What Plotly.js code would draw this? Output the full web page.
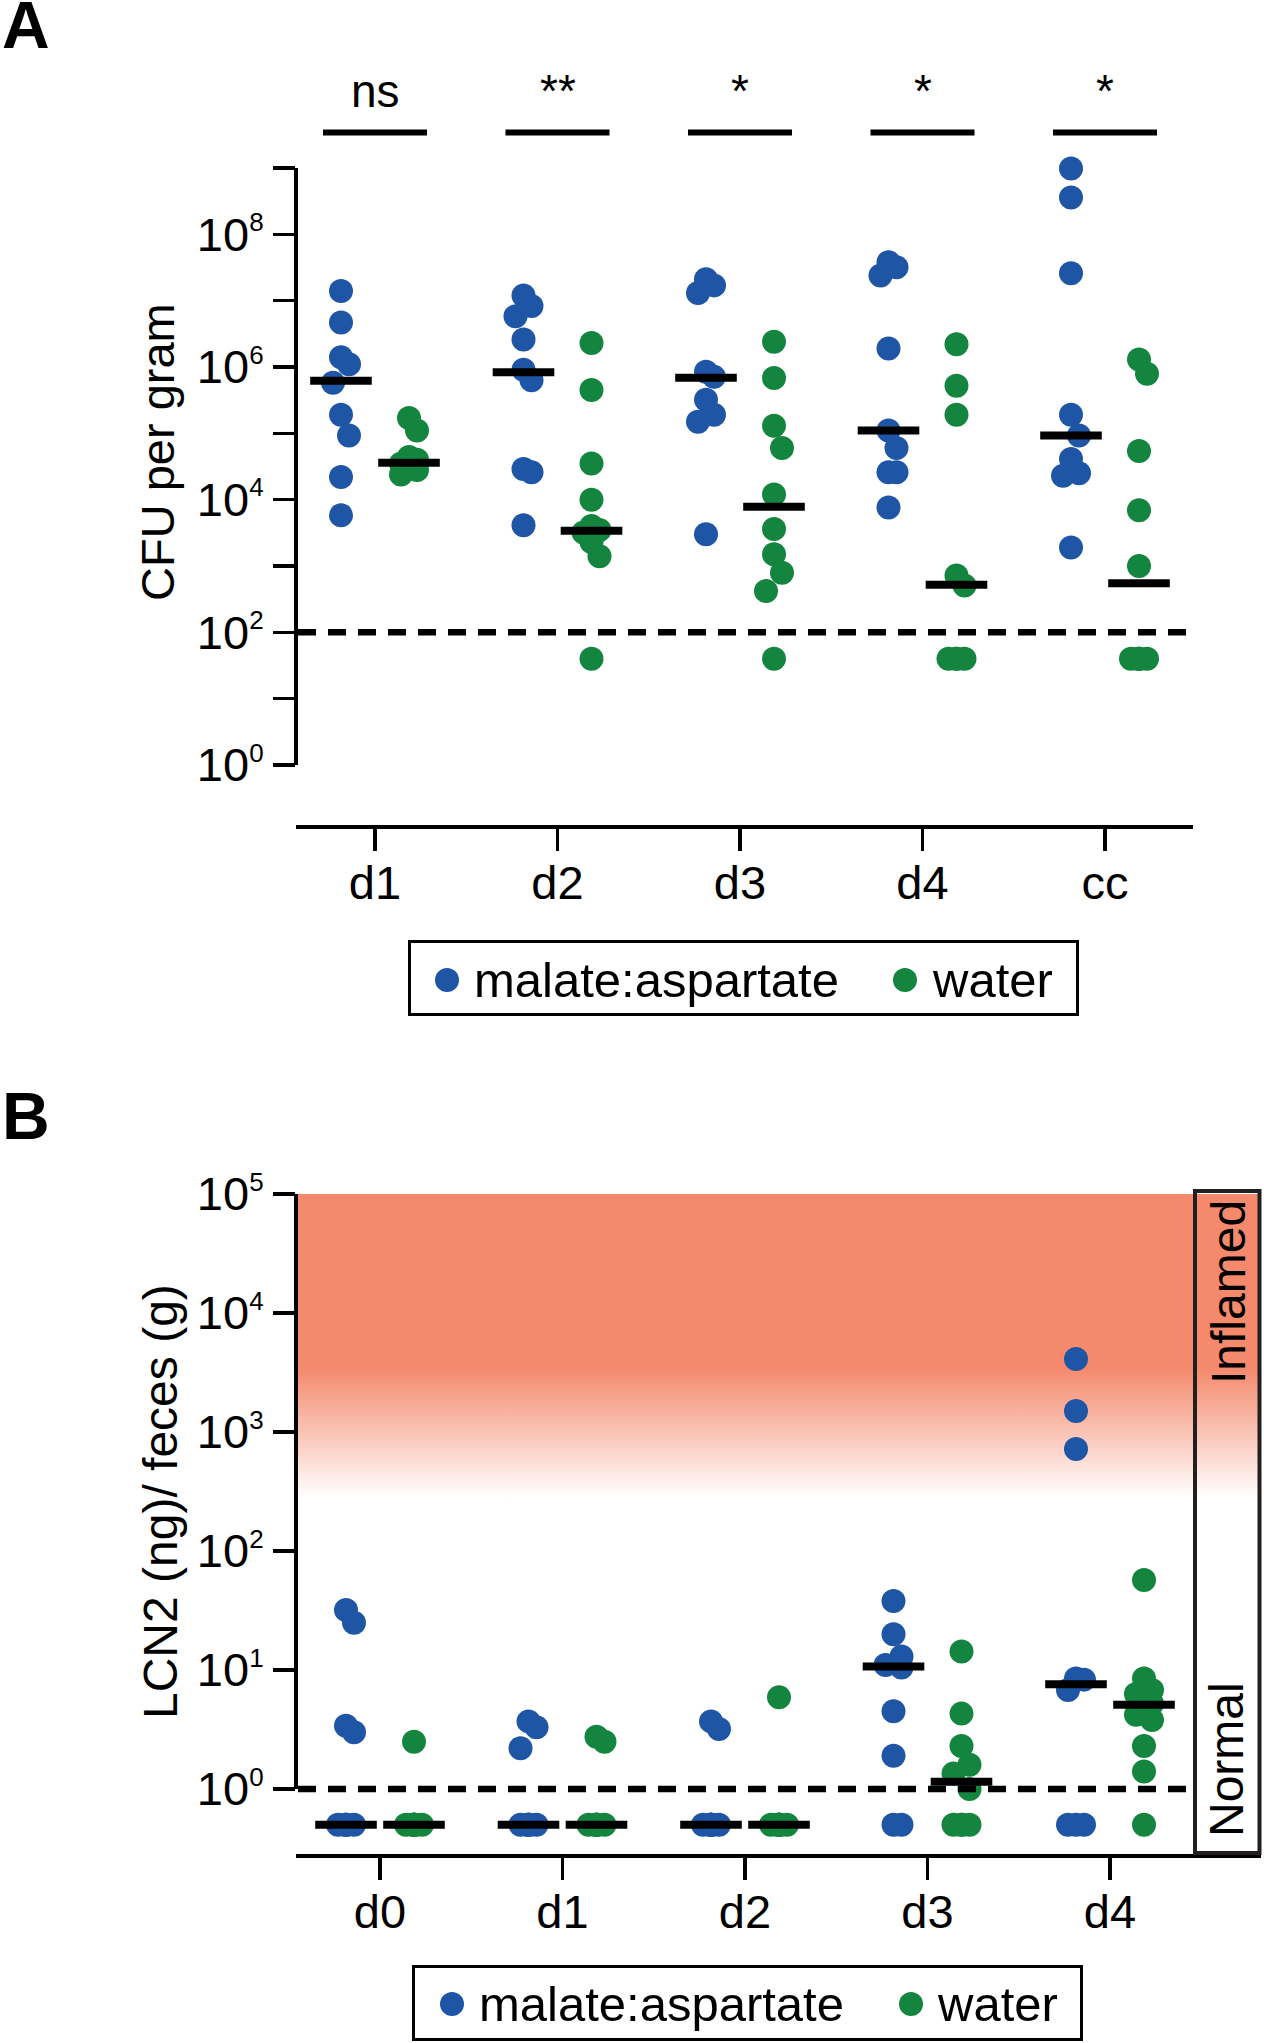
<!DOCTYPE html>
<html>
<head>
<meta charset="utf-8">
<script src="https://cdn.plot.ly/plotly-3.0.1.min.js"></script>
<style>
  html, body { margin: 0; padding: 0; background: #fff; }
  #chart { width: 1264px; height: 2043px; }
</style>
</head>
<body>
<div id="chart"></div>
<script>
// ---- panel A: CFU per gram ----
var daysA = ['d1', 'd2', 'd3', 'd4', 'cc'];
var sigLabels = ['ns', '**', '*', '*', '*'];
var lodA = 100;

var malateA = [
  [1.4e7, 4.7e6, 1.4e6, 1.1e6, 5.8e5, 1.9e5, 9.3e4, 2.2e4, 5.8e3],
  [1.2e7, 8.3e6, 5.8e6, 2.6e6, 9.1e5, 6.3e5, 2.9e4, 2.6e4, 4.1e3],
  [2.1e7, 1.7e7, 1.3e7, 8.5e5, 7.1e5, 3.2e5, 1.9e5, 1.5e5, 3.0e3],
  [3.8e7, 3.2e7, 2.4e7, 1.9e6, 1.1e5, 6.0e4, 2.6e4, 2.6e4, 7.6e3],
  [9.8e8, 3.6e8, 2.6e7, 1.9e5, 9.3e4, 4.1e4, 2.5e4, 2.3e4, 1.9e3]
];
var waterA = [
  [1.7e5, 1.1e5, 4.4e4, 4.0e4, 3.5e4, 3.2e4, 2.8e4, 2.4e4],
  [2.3e6, 4.5e5, 3.5e4, 1.0e4, 4.0e3, 3.5e3, 3.2e3, 2.3e3, 1.4e3, 40],
  [2.4e6, 6.8e5, 1.3e5, 6.0e4, 1.2e4, 3.6e3, 1.5e3, 7.9e2, 4.2e2, 40],
  [2.2e6, 5.2e5, 1.9e5, 7.2e2, 5.1e2, 40, 40, 40, 40],
  [1.3e6, 7.9e5, 5.4e4, 6.9e3, 1.0e3, 40, 40, 40, 40, 40]
];
var medianMalateA = [6.2e5, 8.3e5, 6.9e5, 1.1e5, 9.3e4];
var medianWaterA = [3.6e4, 3.4e3, 7.8e3, 5.2e2, 5.5e2];

// ---- panel B: LCN2 ----
var daysB = ['d0', 'd1', 'd2', 'd3', 'd4'];
var lodB = 1;
var inflamedTop = 1e5, inflamedSolid = 3500, inflamedFade = 280;

var malateB = [
  [32, 25, 3.4, 3.0, 0.5, 0.5, 0.5, 0.5, 0.5],
  [3.7, 3.3, 2.2, 0.5, 0.5, 0.5, 0.5, 0.5, 0.5],
  [3.7, 3.2, 0.5, 0.5, 0.5, 0.5, 0.5, 0.5, 0.5],
  [38, 20, 13, 11, 10.5, 4.5, 1.9, 0.5, 0.5],
  [4100, 1500, 720, 8.5, 8.3, 6.8, 0.5, 0.5, 0.5]
];
var waterB = [
  [2.5, 0.5, 0.5, 0.5, 0.5, 0.5, 0.5, 0.5, 0.5],
  [2.75, 2.5, 0.5, 0.5, 0.5, 0.5, 0.5, 0.5, 0.5],
  [5.9, 0.5, 0.5, 0.5, 0.5, 0.5, 0.5, 0.5, 0.5],
  [14.3, 4.3, 2.3, 1.6, 1.35, 1.0, 0.5, 0.5, 0.5, 0.5],
  [57, 8.5, 6.8, 6.3, 5.2, 4.2, 3.8, 2.3, 1.4, 0.5]
];
var medianMalateB = [0.5, 0.5, 0.5, 10.7, 7.6];
var medianWaterB = [0.5, 0.5, 0.5, 1.15, 5.1];

var seriesNames = ['malate:aspartate', 'water'];

// ---- geometry / style ----
var W = 1264, H = 2043;
function px(x) { return x / W; }
function py(y) { return 1 - y / H; }

var blue = '#1f55a5', green = '#13853f';
var FONT = 'Liberation Sans, Arial, sans-serif';
var slot = 182.5;              // px between day ticks
var shift = 34 / slot;         // group offset from the tick
var decA = 597 / 9, decB = 119; // px per decade

var rangeXA = [(296 - 375) / slot, (1193 - 375) / slot];
var rangeXB = [(296 - 380) / slot, (1261 - 380) / slot];

// small sideways dodge so overlapping dots stay visible
function dots(series, side, dec, color, xa, ya) {
  var xs = [], ys = [];
  series.forEach(function(vals, i) {
    var placed = [];
    vals.forEach(function(v) {
      var yp = Math.log10(v) * dec;
      var best = 0, bestScore = -1;
      [0, 8, -8].forEach(function(c) {
        var m = 24;
        placed.forEach(function(p) { m = Math.min(m, Math.hypot(p[0] - c, p[1] - yp)); });
        if (m > bestScore) { bestScore = m; best = c; }
      });
      placed.push([best, yp]);
      xs.push(i + side * shift + best / slot);
      ys.push(v);
    });
  });
  return {
    type: 'scatter', mode: 'markers', x: xs, y: ys, xaxis: xa, yaxis: ya,
    marker: {size: 24, color: color}, cliponaxis: false, showlegend: false,
    hoverinfo: 'y'
  };
}

function medians(meds, side, xa, ya) {
  return {
    type: 'scatter', mode: 'markers', xaxis: xa, yaxis: ya,
    x: meds.map(function(m, i) { return i + side * shift; }), y: meds,
    marker: {symbol: 'line-ew', size: 44, color: '#000', line: {width: 8, color: '#000'}},
    cliponaxis: false, showlegend: false, hoverinfo: 'y'
  };
}

var solidFrac = (Math.log10(inflamedSolid) - Math.log10(inflamedFade)) /
                (Math.log10(inflamedTop) - Math.log10(inflamedFade));
var band = {
  type: 'scatter', mode: 'lines', xaxis: 'x2', yaxis: 'y2',
  x: [rangeXB[0], rangeXB[1], rangeXB[1], rangeXB[0], rangeXB[0]],
  y: [inflamedFade, inflamedFade, inflamedTop, inflamedTop, inflamedFade],
  fill: 'toself', line: {width: 0},
  fillgradient: {type: 'vertical',
    colorscale: [[0, 'rgb(255,255,255)'], [solidFrac, 'rgb(244,137,108)'], [1, 'rgb(244,137,108)']]},
  hoverinfo: 'skip', showlegend: false
};

var data = [
  band,
  dots(malateA, -1, decA, blue, 'x', 'y'),
  dots(waterA, 1, decA, green, 'x', 'y'),
  medians(medianMalateA, -1, 'x', 'y'),
  medians(medianWaterA, 1, 'x', 'y'),
  dots(malateB, -1, decB, blue, 'x2', 'y2'),
  dots(waterB, 1, decB, green, 'x2', 'y2'),
  medians(medianMalateB, -1, 'x2', 'y2'),
  medians(medianWaterB, 1, 'x2', 'y2')
];

function sup(n) { return '10<sup><span style="font-size:26px">' + n + '</span></sup>'; }

var tickStyle = {ticks: 'outside', ticklen: 22, tickwidth: 3.5, tickcolor: '#000'};

function catAxis(domain, range, anchor, labels) {
  return Object.assign({
    domain: domain, range: range, anchor: anchor,
    tickmode: 'array', tickvals: labels.map(function(d, i) { return i; }), ticktext: labels,
    showline: true, linewidth: 4, linecolor: '#000',
    tickfont: {size: 47, family: FONT, color: '#000'}, ticklabelstandoff: -8,
    showgrid: false, zeroline: false, fixedrange: true
  }, tickStyle);
}
function logAxis(domain, range, anchor, maxPow, labelEvery) {
  var major = [], text = [], minor = [];
  for (var p = 0; p <= maxPow; p++) {
    if (p % labelEvery === 0) { major.push(Math.pow(10, p)); text.push(sup(p)); }
    else minor.push(Math.pow(10, p));
  }
  return Object.assign({
    type: 'log', domain: domain, range: range, anchor: anchor,
    tickmode: 'array', tickvals: major, ticktext: text,
    minor: Object.assign({tickmode: 'array', tickvals: minor, showgrid: false}, tickStyle),
    showline: false,
    tickfont: {size: 47, family: FONT, color: '#000'},
    showgrid: false, zeroline: false, fixedrange: true
  }, tickStyle);
}

var shapes = [
  // y axis lines (stop at 10^0)
  {type: 'line', xref: 'paper', yref: 'y', x0: px(296), x1: px(296), y0: 1, y1: 1e9,
   line: {color: '#000', width: 4}},
  {type: 'line', xref: 'paper', yref: 'y2', x0: px(296), x1: px(296), y0: 1, y1: 1e5,
   line: {color: '#000', width: 4}},
  // detection limits
  {type: 'line', xref: 'paper', yref: 'y', x0: px(298), x1: px(1193), y0: lodA, y1: lodA,
   line: {color: '#000', width: 6.5, dash: '18px,12px'}},
  {type: 'line', xref: 'paper', yref: 'y2', x0: px(298), x1: px(1193), y0: lodB, y1: lodB,
   line: {color: '#000', width: 6.5, dash: '18px,12px'}},
  // inflamed / normal box
  {type: 'rect', xref: 'paper', yref: 'paper', x0: px(1195), x1: px(1259.5), y0: py(1853), y1: py(1191),
   line: {color: '#231f20', width: 4}}
];
daysA.forEach(function(d, i) {
  shapes.push({type: 'line', xref: 'x', yref: 'paper', x0: i - 0.285, x1: i + 0.285,
    y0: py(132.5), y1: py(132.5), line: {color: '#000', width: 6}});
});

var annotations = [
  {text: '<b>A</b>', x: px(0), y: py(25), xanchor: 'left', yanchor: 'middle', font: {size: 66}},
  {text: '<b>B</b>', x: px(0), y: py(1116), xanchor: 'left', yanchor: 'middle', font: {size: 66}},
  {text: 'CFU per gram', x: px(157), y: py(452), textangle: -90, font: {size: 47}},
  {text: 'LCN2 (ng)/ feces (g)', x: px(160), y: py(1502), textangle: -90, font: {size: 48}},
  {text: 'Inflamed', x: px(1228), y: py(1292), textangle: -90, font: {size: 48}},
  {text: 'Normal', x: px(1226), y: py(1760), textangle: -90, font: {size: 48}}
];
sigLabels.forEach(function(s, i) {
  annotations.push({text: s, xref: 'x', yref: 'paper', x: i, y: py(91), font: {size: 46}});
});

// legends drawn as boxes with dots and labels
function legendBox(left, top, dotX, textX, dotY) {
  shapes.push({type: 'rect', xref: 'paper', yref: 'paper', x0: px(left + 1.5), x1: px(left + 669.5),
    y0: py(top + 74.5), y1: py(top + 1.5), line: {color: '#000', width: 3}});
  [blue, green].forEach(function(c, k) {
    shapes.push({type: 'circle', xref: 'paper', yref: 'paper', fillcolor: c, line: {width: 0},
      x0: px(dotX[k] - 12), x1: px(dotX[k] + 12), y0: py(dotY + 12), y1: py(dotY - 12)});
    annotations.push({text: seriesNames[k], x: px(textX[k]), y: py(dotY), xanchor: 'left',
      font: {size: 49}});
  });
}
legendBox(408, 940, [447, 905], [472, 930], 980);
legendBox(412, 1965, [452, 911], [477, 935], 2004);

annotations.forEach(function(a) {
  if (!a.xref) { a.xref = 'paper'; a.yref = 'paper'; }
  if (!a.xanchor) a.xanchor = 'center';
  a.yanchor = 'middle';
  a.showarrow = false;
  a.font.family = FONT; a.font.color = '#000';
});

var layout = {
  width: W, height: H, margin: {l: 0, r: 0, t: 0, b: 0},
  paper_bgcolor: '#fff', plot_bgcolor: 'rgba(0,0,0,0)',
  showlegend: false,
  font: {family: FONT, color: '#000', size: 46},
  xaxis: catAxis([px(296), px(1193)], rangeXA, 'y', daysA),
  yaxis: logAxis([py(825), py(168)], [-60 / decA, 9], 'x', 9, 2),
  xaxis2: catAxis([px(296), px(1261)], rangeXB, 'y2', daysB),
  yaxis2: logAxis([py(1854), py(1194)], [-65 / decB, 5], 'x2', 5, 1),
  shapes: shapes,
  annotations: annotations
};

Plotly.newPlot('chart', data, layout, {displayModeBar: false, staticPlot: true});
</script>
</body>
</html>
